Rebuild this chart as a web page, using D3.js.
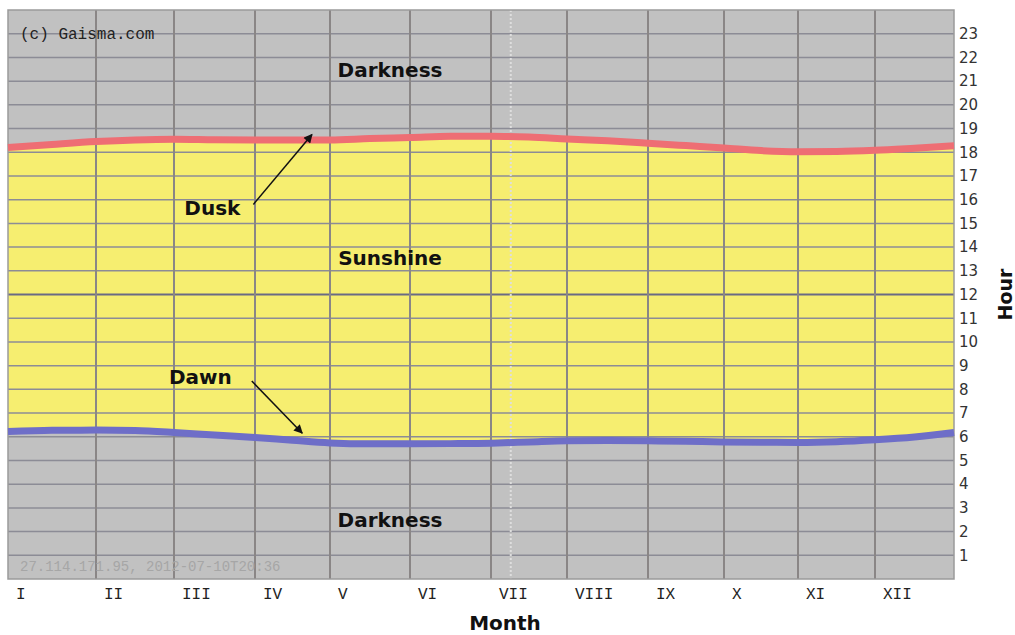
<!DOCTYPE html>
<html>
<head>
<meta charset="utf-8">
<script src="https://cdn.jsdelivr.net/npm/d3@7"></script>
<style>
  body { margin: 0; background: #fff; }
  svg { display: block; }
</style>
</head>
<body>
<script>
// Data
const months = ['I', 'II', 'III', 'IV', 'V', 'VI', 'VII', 'VIII', 'IX', 'X', 'XI', 'XII'];
const hourTicks = [1, 2, 3, 4, 5, 6, 7, 8, 9, 10, 11, 12, 13, 14, 15, 16, 17, 18, 19, 20, 21, 22, 23];

// position in months (0 = 1 Jan, 12 = 31 Dec), sampled every half month
const samplePos = [0, 0.5, 1, 1.5, 2, 2.5, 3, 3.5, 4, 4.5, 5, 5.5, 6, 6.5, 7, 7.5, 8, 8.5, 9, 9.5, 10, 10.5, 11, 11.5, 12];
const duskHour = [18.2, 18.33, 18.45, 18.52, 18.55, 18.53, 18.52, 18.52, 18.52, 18.58, 18.62, 18.67, 18.68, 18.64, 18.56, 18.48, 18.38, 18.28, 18.18, 18.07, 18.02, 18.03, 18.08, 18.17, 18.27];
const dawnHour = [6.22, 6.27, 6.28, 6.26, 6.18, 6.07, 5.97, 5.85, 5.74, 5.70, 5.70, 5.71, 5.73, 5.78, 5.83, 5.84, 5.83, 5.81, 5.78, 5.77, 5.76, 5.79, 5.87, 5.99, 6.18];

const todayPos = 6.26; // 10 July
const regionLabels = ['Darkness', 'Sunshine', 'Darkness'];
const regionHours = [21.45, 13.55, 2.5];
const regionPos = 4.75;

const arrowNames = ['Dusk', 'Dawn'];
const arrowTipPos = [3.76, 3.63];
const arrowTipHour = [18.75, 6.15];
const arrowTailPos = [2.98, 2.96];
const arrowTailHour = [15.8, 8.35];

const copyright = '(c) Gaisma.com';
const stamp = '27.114.171.95, 2012-07-10T20:36';

// Layout
const fullWidth = 1015;
const fullHeight = 635;
const plot = { left: 8, right: 954, top: 10, bottom: 579 };
const monthEdges = [8, 96, 174, 255, 330, 410, 491, 567, 648, 724, 798, 875, 954];

const monoFont = '"Liberation Mono", "DejaVu Sans Mono", monospace';
const boldFont = '"DejaVu Sans", Verdana, sans-serif';

const svg = d3.select('body')
  .append('svg')
  .attr('width', fullWidth)
  .attr('height', fullHeight);

const x = d3.scaleLinear()
  .domain(d3.range(13))
  .range(monthEdges);

const y = d3.scaleLinear()
  .domain([0, 24])
  .range([plot.bottom, plot.top]);

const series = samplePos.map((p, i) => ({ pos: p, dusk: duskHour[i], dawn: dawnHour[i] }));

// Darkness background
svg.append('rect')
  .attr('x', x(0))
  .attr('y', y(24))
  .attr('width', x(12) - x(0))
  .attr('height', y(0) - y(24))
  .style('fill', '#c1c1c1');

// Sunshine area
const area = d3.area()
  .x(d => x(d.pos))
  .y0(d => y(d.dawn))
  .y1(d => y(d.dusk))
  .curve(d3.curveMonotoneX);

svg.append('path')
  .datum(series)
  .attr('d', area)
  .style('fill', '#f6ee70');

// Horizontal grid
svg.append('g')
  .selectAll('line')
  .data(hourTicks)
  .enter()
  .append('line')
  .attr('x1', x(0))
  .attr('x2', x(12))
  .attr('y1', d => y(d))
  .attr('y2', d => y(d))
  .style('stroke', d => (d === 12 ? '#6a6a84' : '#8c8c96'))
  .style('stroke-width', d => (d === 12 ? 2 : 1.5));

// Vertical grid
svg.append('g')
  .selectAll('line')
  .data(d3.range(1, 12))
  .enter()
  .append('line')
  .attr('x1', d => x(d))
  .attr('x2', d => x(d))
  .attr('y1', y(24))
  .attr('y2', y(0))
  .style('stroke', '#8a8686')
  .style('stroke-width', 2);

// Today marker
svg.append('line')
  .attr('x1', x(todayPos))
  .attr('x2', x(todayPos))
  .attr('y1', y(24))
  .attr('y2', y(0))
  .style('stroke', '#dedede')
  .style('stroke-width', 2)
  .style('stroke-dasharray', '2,2');

// Frame
svg.append('rect')
  .attr('x', x(0))
  .attr('y', y(24))
  .attr('width', x(12) - x(0))
  .attr('height', y(0) - y(24))
  .style('fill', 'none')
  .style('stroke', '#9a9a9a')
  .style('stroke-width', 1.5);

// Dusk and dawn lines
const duskLine = d3.line().x(d => x(d.pos)).y(d => y(d.dusk)).curve(d3.curveMonotoneX);
const dawnLine = d3.line().x(d => x(d.pos)).y(d => y(d.dawn)).curve(d3.curveMonotoneX);

svg.append('path')
  .datum(series)
  .attr('d', duskLine)
  .style('fill', 'none')
  .style('stroke', '#ee6e74')
  .style('stroke-width', 7);

svg.append('path')
  .datum(series)
  .attr('d', dawnLine)
  .style('fill', 'none')
  .style('stroke', '#6e6ec8')
  .style('stroke-width', 7);

// Copyright and stamp
svg.append('text')
  .attr('x', x(0) + 12)
  .attr('y', y(23) + 5)
  .style('font-family', monoFont)
  .style('font-size', '16px')
  .style('fill', '#222')
  .text(copyright);

svg.append('text')
  .attr('x', x(0) + 12)
  .attr('y', y(0.35))
  .style('font-family', monoFont)
  .style('font-size', '14px')
  .style('fill', '#a6a6a6')
  .text(stamp);

// Region labels
svg.append('g')
  .selectAll('text')
  .data(regionLabels)
  .enter()
  .append('text')
  .attr('x', x(regionPos))
  .attr('y', (d, i) => y(regionHours[i]))
  .attr('text-anchor', 'middle')
  .attr('dominant-baseline', 'central')
  .style('font-family', boldFont)
  .style('font-weight', 'bold')
  .style('font-size', '20px')
  .style('fill', '#111')
  .text(d => d);

// Arrows
svg.append('defs')
  .append('marker')
  .attr('id', 'head')
  .attr('viewBox', '0 0 10 10')
  .attr('refX', 9)
  .attr('refY', 5)
  .attr('markerWidth', 10)
  .attr('markerHeight', 9)
  .attr('markerUnits', 'userSpaceOnUse')
  .attr('orient', 'auto')
  .append('path')
  .attr('d', 'M0,0 L10,5 L0,10 z')
  .style('fill', '#111');

const arrows = svg.append('g')
  .selectAll('g')
  .data(arrowNames)
  .enter()
  .append('g');

arrows.append('line')
  .attr('x1', (d, i) => x(arrowTailPos[i]))
  .attr('y1', (d, i) => y(arrowTailHour[i]))
  .attr('x2', (d, i) => x(arrowTipPos[i]))
  .attr('y2', (d, i) => y(arrowTipHour[i]))
  .attr('marker-end', 'url(#head)')
  .style('stroke', '#111')
  .style('stroke-width', 1.5);

arrows.append('text')
  .attr('x', (d, i) => x(arrowTailPos[i]) - (i === 0 ? 13 : 20))
  .attr('y', (d, i) => y(arrowTailHour[i]) + (i === 0 ? 4 : -4))
  .attr('text-anchor', 'end')
  .attr('dominant-baseline', 'central')
  .style('font-family', boldFont)
  .style('font-weight', 'bold')
  .style('font-size', '20px')
  .style('fill', '#111')
  .text(d => d);

// Month axis labels
svg.append('g')
  .selectAll('text')
  .data(months)
  .enter()
  .append('text')
  .attr('x', (d, i) => x(i) + 8)
  .attr('y', plot.bottom + 20)
  .style('font-family', monoFont)
  .style('font-size', '16px')
  .style('fill', '#222')
  .text(d => d);

// Hour axis on the right
const yAxis = d3.axisRight(y)
  .tickValues(hourTicks)
  .tickSize(0)
  .tickPadding(5);

const yAxisG = svg.append('g')
  .attr('transform', `translate(${plot.right}, 0)`)
  .call(yAxis);

yAxisG.select('.domain').remove();
yAxisG.selectAll('text')
  .style('font-family', boldFont)
  .style('font-size', '15px')
  .style('fill', '#333');

// Axis titles
svg.append('text')
  .attr('transform', `translate(${fullWidth - 10}, ${y(12)}) rotate(-90)`)
  .attr('text-anchor', 'middle')
  .attr('dominant-baseline', 'central')
  .style('font-family', boldFont)
  .style('font-weight', 'bold')
  .style('font-size', '19px')
  .style('fill', '#111')
  .text('Hour');

svg.append('text')
  .attr('x', (x(0) + x(12)) / 2 + 24)
  .attr('y', fullHeight - 5)
  .attr('text-anchor', 'middle')
  .style('font-family', boldFont)
  .style('font-weight', 'bold')
  .style('font-size', '20px')
  .style('fill', '#111')
  .text('Month');
</script>
</body>
</html>
